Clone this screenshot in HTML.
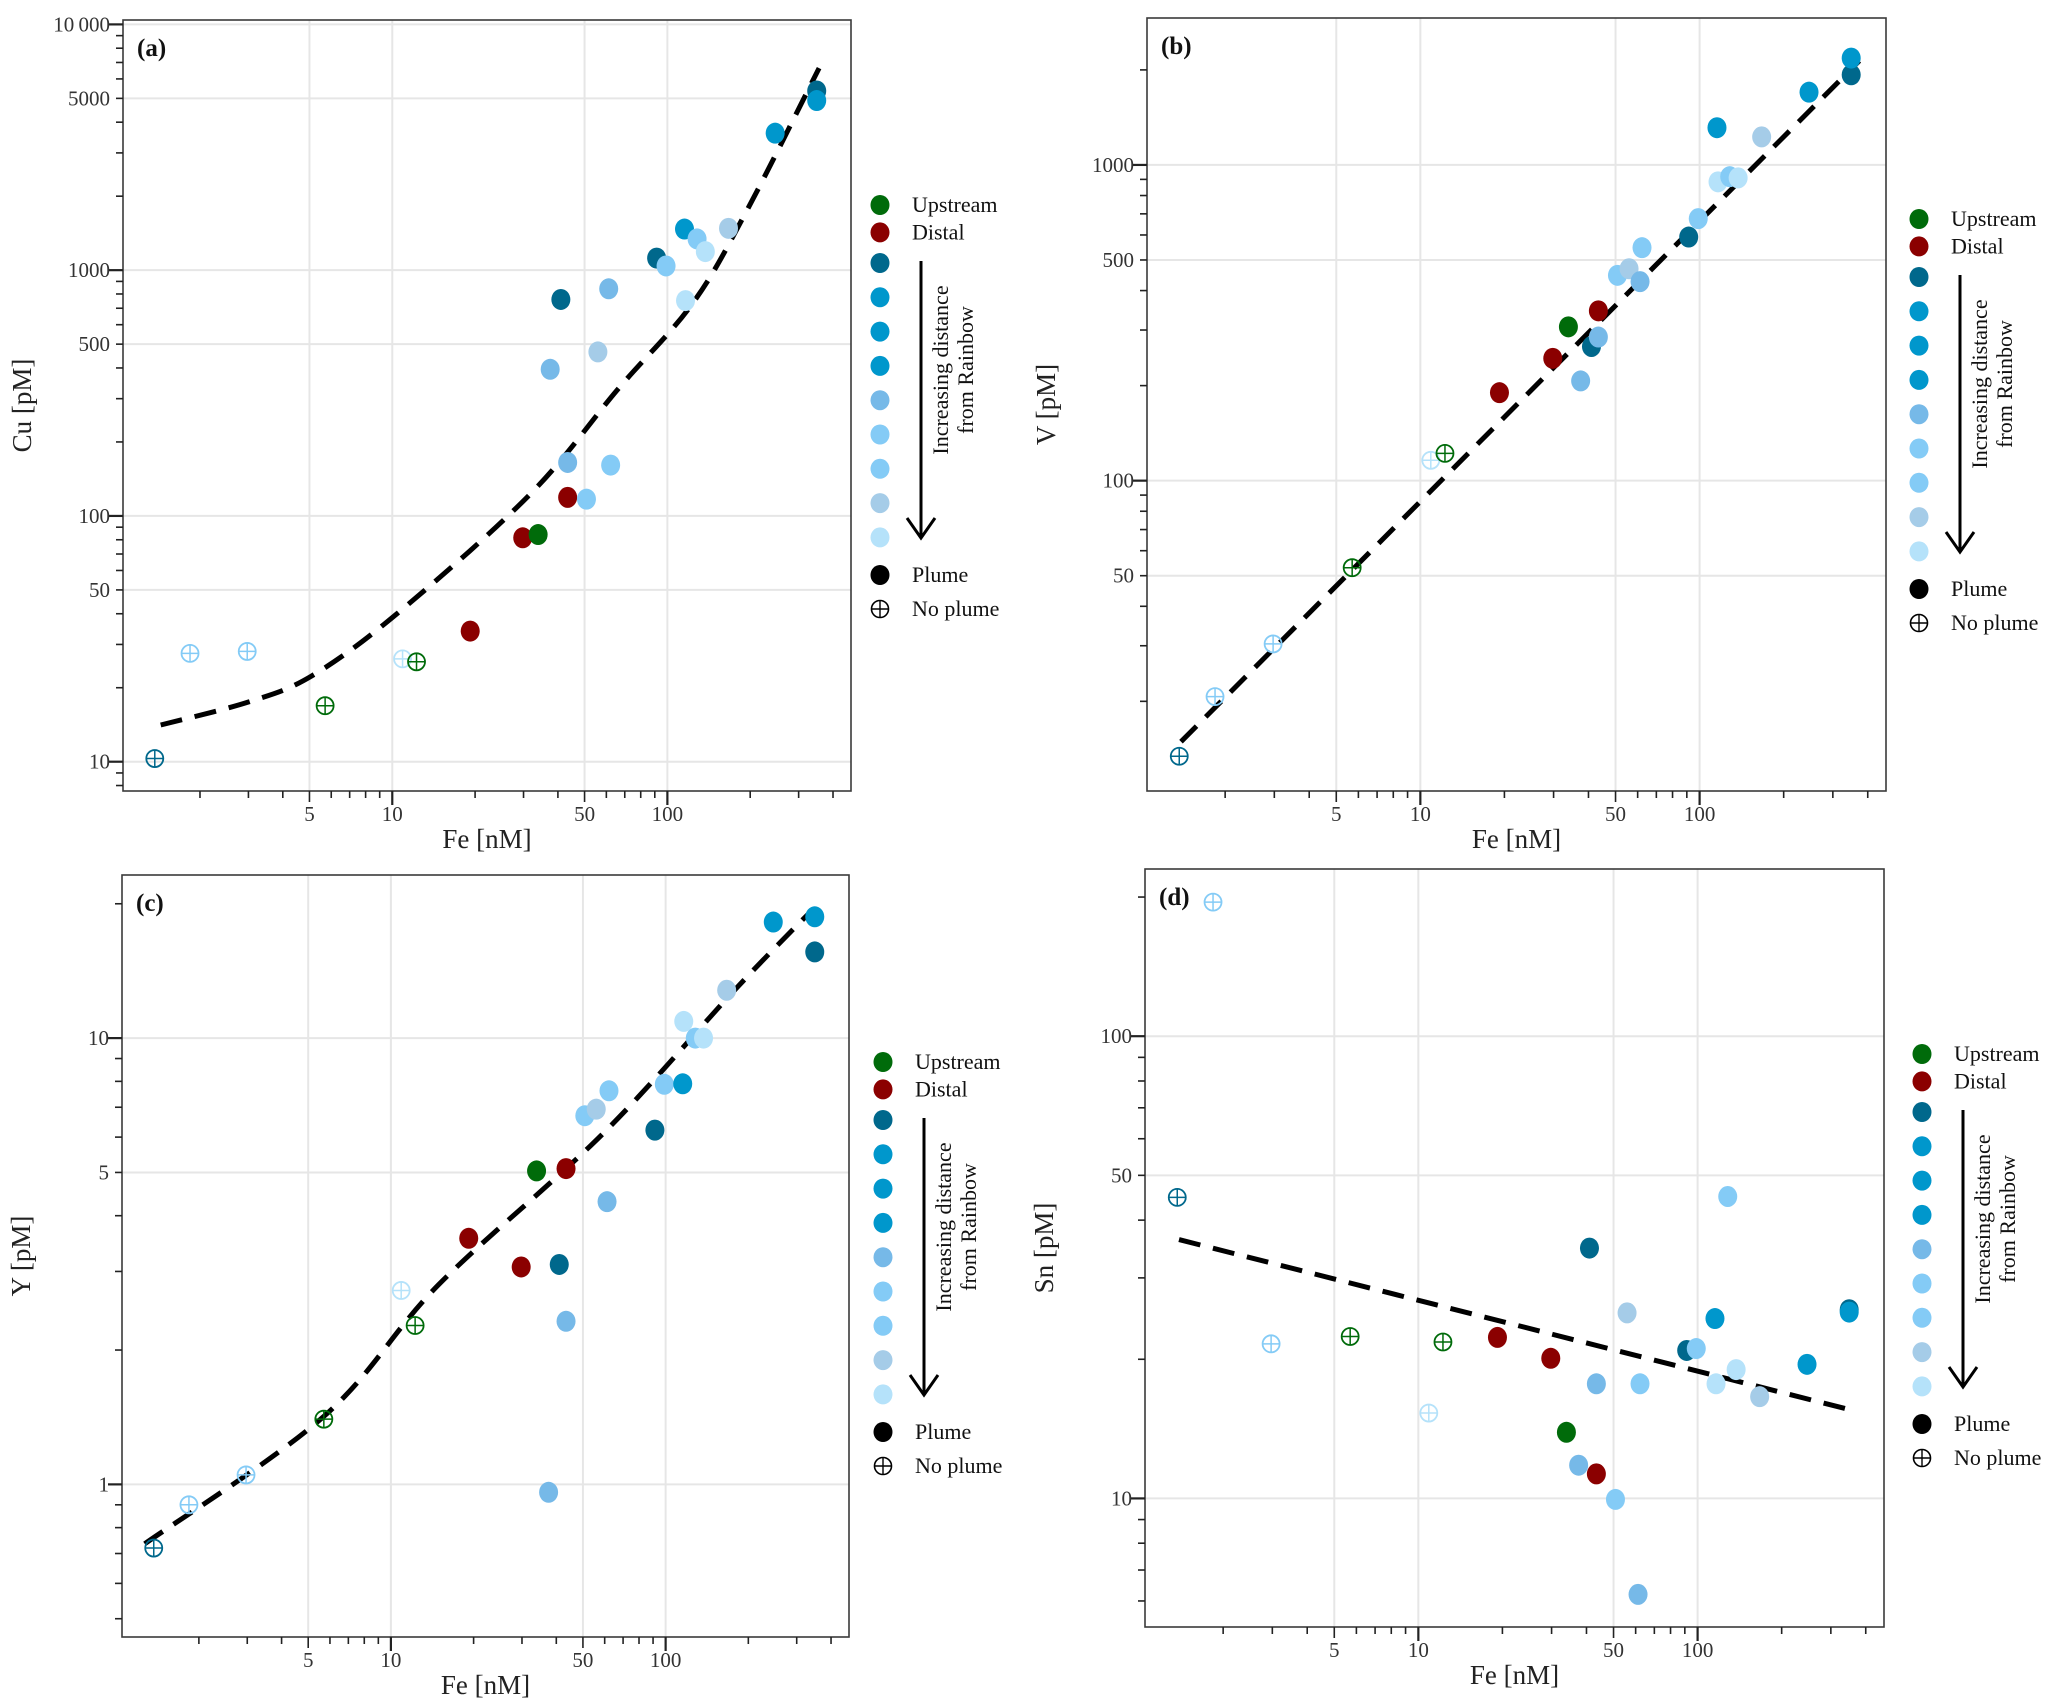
<!DOCTYPE html>
<html><head><meta charset="utf-8">
<style>
html,body{margin:0;padding:0;background:#fff;}
svg{display:block;font-family:"Liberation Serif",serif;}
</style></head>
<body>
<svg id="fig" width="2067" height="1707" viewBox="0 0 2067 1707" xmlns="http://www.w3.org/2000/svg"></svg>
<script>
// ---- data (one entry per sample) ----
const fe = [1.37,1.84,2.97,5.7,10.9,12.25,19.2,29.8,33.9,41,37.5,43.4,43.4,50.8,55.9,61.2,62.2,91.4,98.9,115.4,116.4,128.2,137.4,166.8,246.5,349,349];
const cu = [10.3,27.6,28.1,16.9,26.2,25.5,34,81.5,84,760,395,165,119,117,465,840,161,1120,1040,1470,752,1340,1190,1480,3610,5360,4900];
const vv = [13.4,20.7,30.4,53,116,122,190,244,307,266,207,285,345,447,469,427,547,591,676,1312,884,918,910,1227,1700,1930,2180];
const yy = [0.72,0.90,1.05,1.40,2.72,2.27,3.56,3.07,5.04,3.11,0.96,2.32,5.1,6.7,6.93,4.3,7.62,6.22,7.88,7.9,10.9,10,10,12.8,18.2,15.6,18.7];
const sn = [44.8,195,21.6,22.4,15.3,21.8,22.3,20.1,13.9,34.8,11.8,17.7,11.3,9.95,25.2,6.2,17.7,20.9,21.1,24.5,17.7,45,19.0,16.6,19.5,25.6,25.3];
const group = ['teal','light','light','green','lightest','green','red','red','green','teal','medium','medium','red','light','grey','medium','light','teal','light','bright','lightest','light','lightest','grey','bright','teal','bright'];
const plume = [0,0,0,0,0,0,1,1,1,1,1,1,1,1,1,1,1,1,1,1,1,1,1,1,1,1,1];
// fit curves
const fitCuFe = [1.44,3,5.08,10.4,31.8,66.4,123,193,356];
const fitCu = [14.1,17.5,22.3,40,123,330,728,1720,6640];
const fitVFe = [1.39,373];
const fitV = [14.9,2135];
const fitYFe = [1.27,5.7,14.9,59,180,337];
const fitY = [0.736,1.42,2.8,6.1,12.9,19.2];
const fitSnFe = [1.39,344];
const fitSn = [36.3,15.6];
const xTickLabels = [5,10,50,100];
const cuTicks = [10,50,100,500,1000,5000,10000];
const vTicks = [50,100,500,1000];
const yTicks = [1,5,10];
const snTicks = [10,50,100];

const COL = {teal:'#00688c',bright:'#0097cc',medium:'#76b9e8',light:'#84cbf6',lightest:'#b5e2fa',grey:'#a5cce8',green:'#006b0a',red:'#8b0000'};
const legendGrad = ['teal','bright','bright','bright','medium','light','light','grey','lightest'];

const svg = document.getElementById('fig');
const NS='http://www.w3.org/2000/svg';
function mk(tag, attrs, parent){const e=document.createElementNS(NS,tag);for(const k in attrs)e.setAttribute(k,attrs[k]);(parent||svg).appendChild(e);return e;}

const panels = [
 {id:'a',x0:123,x1:851,y0:20,y1:791,ymin:7.6,ymax:10420,vals:cu,ticks:cuTicks,title:'Cu [pM]',fx:fitCuFe,fy:fitCu,leg:[880,205]},
 {id:'b',x0:1147,x1:1886,y0:18,y1:791,ymin:10.4,ymax:2920,vals:vv,ticks:vTicks,title:'V [pM]',fx:fitVFe,fy:fitV,leg:[1919,219]},
 {id:'c',x0:122,x1:849,y0:875,y1:1637,ymin:0.455,ymax:23.2,vals:yy,ticks:yTicks,title:'Y [pM]',fx:fitYFe,fy:fitY,leg:[883,1062]},
 {id:'d',x0:1145,x1:1884,y0:869,y1:1627,ymin:5.27,ymax:230,vals:sn,ticks:snTicks,title:'Sn [pM]',fx:fitSnFe,fy:fitSn,leg:[1922,1054]}
];
const XMIN=1.05, XMAX=465;

function smoothPath(P){
  if(P.length<3) return 'M'+P.map(p=>p[0].toFixed(1)+','+p[1].toFixed(1)).join(' L');
  let d='M'+P[0][0].toFixed(1)+','+P[0][1].toFixed(1);
  for(let i=0;i<P.length-1;i++){
    const p0=P[Math.max(0,i-1)],p1=P[i],p2=P[i+1],p3=P[Math.min(P.length-1,i+2)];
    const c1=[p1[0]+(p2[0]-p0[0])/6,p1[1]+(p2[1]-p0[1])/6];
    const c2=[p2[0]-(p3[0]-p1[0])/6,p2[1]-(p3[1]-p1[1])/6];
    d+=` C${c1[0].toFixed(1)},${c1[1].toFixed(1)} ${c2[0].toFixed(1)},${c2[1].toFixed(1)} ${p2[0].toFixed(1)},${p2[1].toFixed(1)}`;
  }
  return d;
}

panels.forEach(p=>{
  const g = mk('g',{});
  
  
  const sx = v => p.x0 + (Math.log10(v)-Math.log10(XMIN))/(Math.log10(XMAX)-Math.log10(XMIN))*(p.x1-p.x0);
  const sy = v => p.y1 - (Math.log10(v)-Math.log10(p.ymin))/(Math.log10(p.ymax)-Math.log10(p.ymin))*(p.y1-p.y0);
  xTickLabels.forEach(t=>{const l=mk('line',{x1:sx(t),x2:sx(t),y1:p.y0,y2:p.y1,stroke:'#e6e6e6','stroke-width':2},g);
    });
  p.ticks.forEach(t=>{const l=mk('line',{x1:p.x0,x2:p.x1,y1:sy(t),y2:sy(t),stroke:'#e6e6e6','stroke-width':2},g);
    });
  const box=mk('rect',{x:p.x0,y:p.y0,width:p.x1-p.x0,height:p.y1-p.y0,fill:'none',stroke:'#3a3a3a','stroke-width':1.6},g);
  
  for(let d=1;d<=100;d*=10){for(let m=1;m<=9;m++){const v=m*d;if(v<XMIN||v>XMAX)continue;
    const major=(m===1);const len=major?14:(m===5?11:7);
    const t=mk('line',{x1:sx(v),x2:sx(v),y1:p.y1,y2:p.y1+len,stroke:'#222','stroke-width':major?2.2:1.6},g);
    }}
  xTickLabels.forEach(v=>{const t=mk('text',{x:sx(v),y:p.y1+30,'text-anchor':'middle','font-size':21,fill:'#333'},g);t.textContent=v;
    });
  for(let d=0.1;d<=10000;d*=10){for(let m=1;m<=9;m++){const v=+(m*d).toPrecision(3);if(v<p.ymin||v>p.ymax)continue;
    const major=(m===1);const len=major?14:7;
    const t=mk('line',{x1:p.x0,x2:p.x0-len,y1:sy(v),y2:sy(v),stroke:'#222','stroke-width':major?2.2:1.6},g);
    }}
  p.ticks.forEach(v=>{const t=mk('text',{x:p.x0-13,y:sy(v)+7,'text-anchor':'end','font-size':21,fill:'#333'},g);
    t.textContent = v===10000?'10\u2009000':v;
    });
  const xt=mk('text',{x:(p.x0+p.x1)/2,y:p.y1+57,'text-anchor':'middle','font-size':27,fill:'#222'},g);xt.textContent='Fe [nM]';
  
  const cy=(p.y0+p.y1)/2, cx=p.x0-92;
  const yt=mk('text',{x:cx,y:cy,'text-anchor':'middle','font-size':27,fill:'#222',transform:`rotate(-90 ${cx} ${cy})`},g);yt.textContent=p.title;
  
  const pl=mk('text',{x:p.x0+14,y:p.y0+36,'font-size':25,'font-weight':'bold',fill:'#111'},g);pl.textContent='('+p.id+')';
  
  const P=p.fx.map((f,i)=>[sx(f),sy(p.fy[i])]);
  const fl=mk('path',{d:smoothPath(P),fill:'none',stroke:'#000','stroke-width':5,'stroke-dasharray':'22 13'},g);
  
  fe.forEach((f,i)=>{
    const x=sx(f), y=sy(p.vals[i]), c=COL[group[i]];
    if(plume[i]){
      const d=mk('ellipse',{cx:x,cy:y,rx:9.5,ry:10.5,fill:c},g);
      
    } else {
      const pg=mk('g',{},g);
      
      mk('circle',{cx:x,cy:y,r:8.5,fill:'none',stroke:c,'stroke-width':1.8},pg);
      mk('line',{x1:x-8.5,x2:x+8.5,y1:y,y2:y,stroke:c,'stroke-width':1.5},pg);
      mk('line',{x1:x,x2:x,y1:y-8.5,y2:y+8.5,stroke:c,'stroke-width':1.5},pg);
    }
  });
  const [lx,ly]=p.leg;
  const lg=mk('g',{},g);
  
  const entries=[{c:COL.green,t:'Upstream',y:ly},{c:COL.red,t:'Distal',y:ly+27.4}];
  legendGrad.forEach((k,i)=>entries.push({c:COL[k],t:'',y:ly+58+i*34.3}));
  entries.push({c:'#000',t:'Plume',y:ly+370});
  entries.forEach(e=>{
    const d=mk('ellipse',{cx:lx,cy:e.y,rx:9.5,ry:10,fill:e.c},lg);
    
    if(e.t){const t=mk('text',{x:lx+32,y:e.y+7,'font-size':22,fill:'#111'},lg);t.textContent=e.t;
      }
  });
  const ny=ly+404;
  mk('circle',{cx:lx,cy:ny,r:8.5,fill:'none',stroke:'#000','stroke-width':1.6},lg);
  mk('line',{x1:lx-8.5,x2:lx+8.5,y1:ny,y2:ny,stroke:'#000','stroke-width':1.4},lg);
  mk('line',{x1:lx,x2:lx,y1:ny-8.5,y2:ny+8.5,stroke:'#000','stroke-width':1.4},lg);
  const nt=mk('text',{x:lx+32,y:ny+7,'font-size':22,fill:'#111'},lg);nt.textContent='No plume';
  
  const ax=lx+41, a0=ly+56, a1=ly+333;
  const ar=mk('g',{},lg);
  
  mk('line',{x1:ax,x2:ax,y1:a0,y2:a1,stroke:'#000','stroke-width':3},ar);
  mk('polyline',{points:`${ax-14},${a1-20} ${ax},${a1} ${ax+14},${a1-20}`,fill:'none',stroke:'#000','stroke-width':3},ar);
  const tx=lx+68, ty=ly+165;
  const at=mk('text',{x:tx,y:ty,'text-anchor':'middle','font-size':22,fill:'#111',transform:`rotate(-90 ${tx} ${ty})`},lg);
  
  const s1=mk('tspan',{x:tx,dy:0},at);s1.textContent='Increasing distance';
  const s2=mk('tspan',{x:tx,dy:25},at);s2.textContent='from Rainbow';
});
</script>
</body></html>
